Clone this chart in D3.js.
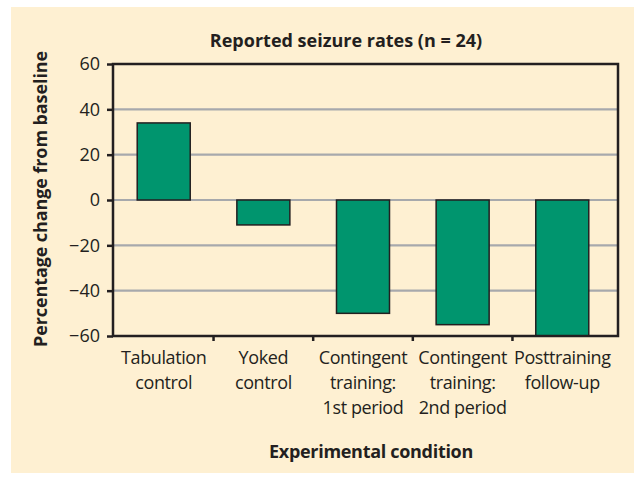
<!DOCTYPE html>
<html><head><meta charset="utf-8">
<script src="https://cdn.jsdelivr.net/npm/d3@7"></script>
<style>
html,body{margin:0;padding:0;background:#fff;}
svg{display:block;}
text{font-family:"Open Sans",sans-serif;fill:#231f20;}
</style></head>
<body>
<svg id="chart" width="634" height="479"></svg>
<script>
const categories = [
  ["Tabulation","control"],
  ["Yoked","control"],
  ["Contingent","training:","1st period"],
  ["Contingent","training:","2nd period"],
  ["Posttraining","follow-up"]
];
const values = [34, -11, -50, -55, -60];
const yTicks = [-60, -40, -20, 0, 20, 40, 60];
const gridTicks = [-40, -20, 0, 20, 40];
const title = "Reported seizure rates (n = 24)";
const xTitle = "Experimental condition";
const yTitle = "Percentage change from baseline";

const svg = d3.select("#chart");
svg.append("rect").attr("x",11).attr("y",7).attr("width",623).attr("height",466).attr("fill","#fef0d2");

const L=113, R=618, T=64, B=336;
const x = d3.scaleBand().domain(d3.range(categories.length)).range([L+2,R-7]).paddingInner(0.468).paddingOuter(0.223);
const y = d3.scaleLinear().domain([-60,60]).range([B,T]);

// gridlines
svg.append("g").selectAll("line").data(gridTicks).join("line")
  .attr("x1",L).attr("x2",R).attr("y1",d=>y(d)).attr("y2",d=>y(d))
  .attr("stroke","#a7a9ac").attr("stroke-width",2.2);

// bars
svg.append("g").selectAll("rect").data(values).join("rect")
  .attr("x",(d,i)=>x(i)).attr("width",x.bandwidth())
  .attr("y",d=>y(Math.max(0,d))).attr("height",d=>Math.abs(y(d)-y(0)))
  .attr("fill","#00956e").attr("stroke","#231f20").attr("stroke-width",1.5);

// frame
svg.append("rect").attr("x",L).attr("y",T).attr("width",R-L).attr("height",B-T)
  .attr("fill","none").attr("stroke","#231f20").attr("stroke-width",2.5);

// y axis
const yAxis = d3.axisLeft(y).tickValues(yTicks).tickSize(6).tickPadding(7)
  .tickFormat(d=> d<0 ? "\u2212"+Math.abs(d) : String(d));
const gy = svg.append("g").attr("transform",`translate(${L},0)`).call(yAxis);
gy.select(".domain").remove();
gy.selectAll(".tick line").attr("stroke","#231f20").attr("stroke-width",2.5);
gy.selectAll(".tick text").attr("font-size",18).attr("fill","#231f20").attr("font-family","Open Sans");

// x axis ticks at band boundaries
const step = x.step();
const bounds = d3.range(1,categories.length).map(i=> x(i) - step*x.paddingInner()/2);
svg.append("g").selectAll("line").data(bounds).join("line")
  .attr("x1",d=>d).attr("x2",d=>d).attr("y1",B).attr("y2",B+5)
  .attr("stroke","#231f20").attr("stroke-width",2.5);

// x labels
const xl = svg.append("g").selectAll("text").data(categories).join("text")
  .attr("text-anchor","middle").attr("font-size",18).attr("letter-spacing",-0.4)
  .attr("x",(d,i)=>x(i)+x.bandwidth()/2).attr("y",364);
xl.selectAll("tspan").data(d=>d).join("tspan")
  .attr("x",function(){return this.parentNode.getAttribute("x");})
  .attr("dy",(d,i)=> i===0?0:25).text(d=>d);

// titles
svg.append("text").attr("x",346).attr("y",47).attr("text-anchor","middle")
  .attr("font-size",18).attr("font-weight","bold").text(title);
svg.append("text").attr("x",371).attr("y",458).attr("text-anchor","middle")
  .attr("font-size",18).attr("letter-spacing",-0.3).attr("font-weight","bold").text(xTitle);
svg.append("text").attr("transform","translate(47,199) rotate(-90)").attr("text-anchor","middle")
  .attr("font-size",18).attr("letter-spacing",-0.1).attr("font-weight","bold").text(yTitle);
</script>
</body></html>
